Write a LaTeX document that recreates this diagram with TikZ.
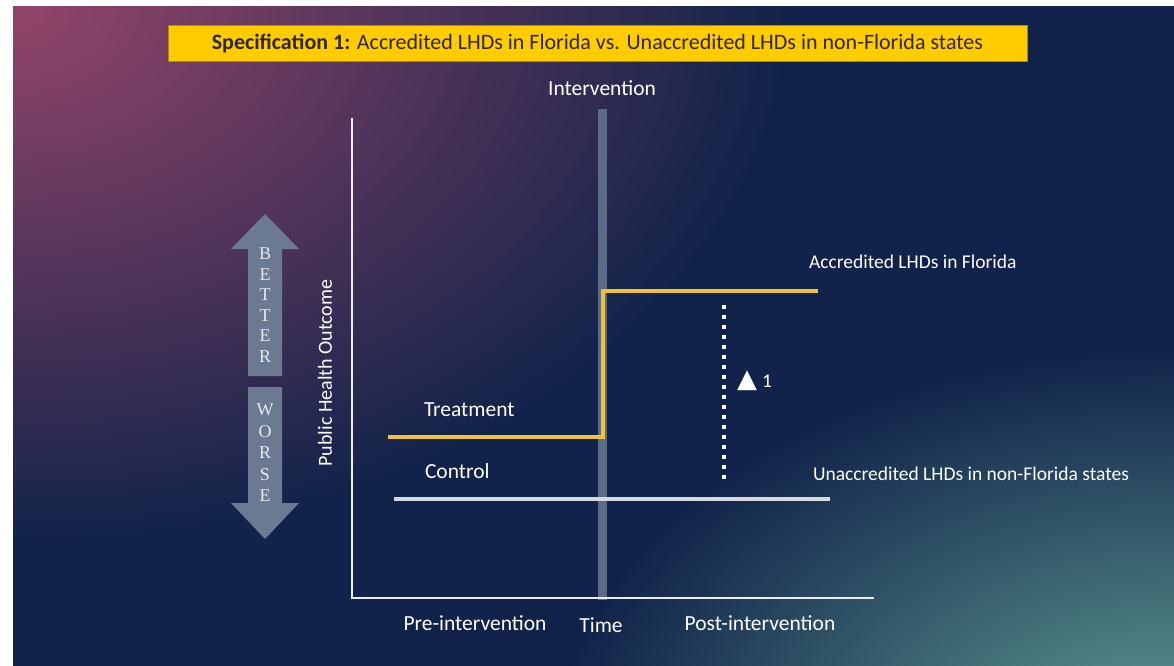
\documentclass[tikz,border=0pt]{standalone}
\usepackage{fontspec}
\setmainfont{Carlito}
\newfontfamily\letterfont{Liberation Serif}
\newfontfamily\symbfont{DejaVu Sans}

\definecolor{navy}{HTML}{11234A}
\definecolor{plum}{HTML}{94456A}
\definecolor{seateal}{HTML}{62A194}
\definecolor{gold}{HTML}{FFCC00}
\definecolor{goldedge}{HTML}{B08A10}
\definecolor{titleink}{HTML}{2E2712}
\definecolor{treatyellow}{HTML}{EFC23A}
\definecolor{ctrlgray}{HTML}{D6D9E2}
\definecolor{axiswhite}{HTML}{ECEDF3}
\definecolor{bargray}{HTML}{5B6B86}
\definecolor{arrowgray}{HTML}{6B7A91}
\definecolor{lettergray}{HTML}{E6E8EE}

\begin{document}
\begin{tikzpicture}[x=1pt, y=-1pt]
\tikzset{ >=latex, inner sep=0pt, outer sep=0pt,
  lbl/.style={text=white, font=\fontsize{21.5}{26}\selectfont},
  side/.style={text=white, font=\fontsize{19.5}{24}\selectfont},
  letters/.style={text=lettergray, align=center, font=\letterfont\fontsize{18}{20.6}\selectfont},
  }

%\draw [lightgray, dashed](0,0) grid (1174,665);
\useasboundingbox (0,0) rectangle (1174,665);

% slide background
\fill [white] (0,0) rectangle (13,665);
\fill [white] (0,0) rectangle (1174,6);
\fill [navy] (13,6) rectangle (1180,672);
\begin{scope}
\clip (13,6) rectangle (1180,672);
\shade [inner color=plum, outer color=navy] (13,6) ellipse [x radius=780pt, y radius=540pt];
\shade [inner color=seateal, outer color=navy] (1174,760) ellipse [x radius=620pt, y radius=410pt];
\end{scope}

% title
\node [fill=gold, draw=goldedge, line width=0.5pt, minimum width=859pt, minimum height=36pt,
       text=titleink, font=\fontsize{22}{26}\selectfont] (title) at (597.5,43)
      {\textbf{Specification 1:} Accredited LHDs in Florida vs. Unaccredited LHDs in non-Florida states};

\node [lbl] (intv) at (602,88) {Intervention};

% better / worse arrows
\fill [arrowgray] (265,214) -- (299,249) -- (282,249) -- (282,376) -- (248,376) -- (248,249) -- (231,249) -- cycle;
\fill [arrowgray] (265,539) -- (299,503) -- (282,503) -- (282,387) -- (248,387) -- (248,503) -- (231,503) -- cycle;
\node [letters] (better) at (265,305) {B\\E\\T\\T\\E\\R};
\node [letters, font=\letterfont\fontsize{18}{21.5}\selectfont] (worse) at (265,453) {W\\O\\R\\S\\E};

\node [lbl, font=\fontsize{20}{24}\selectfont, rotate=90] (yname) at (325,373) {Public Health Outcome};

% intervention bar
\coordinate (b0) at (602.5,109);
\coordinate (b1) at (602.5,600);
\draw [bargray, line width=9pt] (b0)--(b1);

% axes
\coordinate (ytop) at (352,118);
\coordinate (O)    at (352,598);
\coordinate (xend) at (874,598);
\draw [axiswhite, line width=2.5pt] (ytop)--(O)--(xend);

% control and treatment
\coordinate (c0) at (394,499);
\coordinate (c1) at (830,499);
\draw [ctrlgray, line width=4pt] (c0)--(c1);

\coordinate (t0) at (388,437);
\coordinate (t1) at (603,437);
\coordinate (t2) at (603,291);
\coordinate (t3) at (818,291);
\draw [treatyellow, line width=4pt] (t0)--(t1)--(t2)--(t3);

% difference
\coordinate (d0) at (724,305);
\coordinate (d1) at (724,482);
\draw [white, line width=4pt, dash pattern=on 4pt off 6pt] (d0)--(d1);
\node [text=white, anchor=base west, font=\symbfont\fontsize{26}{28}\selectfont] (delta) at (737,387) {▲};
\node [side, anchor=base west] (one) at ([xshift=5pt]delta.base east) {1};

% labels
\node [lbl, anchor=base west] (treat) at (424,416) {Treatment};
\node [lbl, anchor=base west] (ctrl)  at (425,478) {Control};
\node [side, anchor=base west] (acc)   at (809,268) {Accredited LHDs in Florida};
\node [side, anchor=base west] (unacc) at (813,480) {Unaccredited LHDs in non-Florida states};

\node [lbl, anchor=base] (pre)  at (475,630) {Pre-intervention};
\node [lbl, anchor=base] (time) at (601,632) {Time};
\node [lbl, anchor=base] (post) at (760,630) {Post-intervention};

\end{tikzpicture}
\end{document}
